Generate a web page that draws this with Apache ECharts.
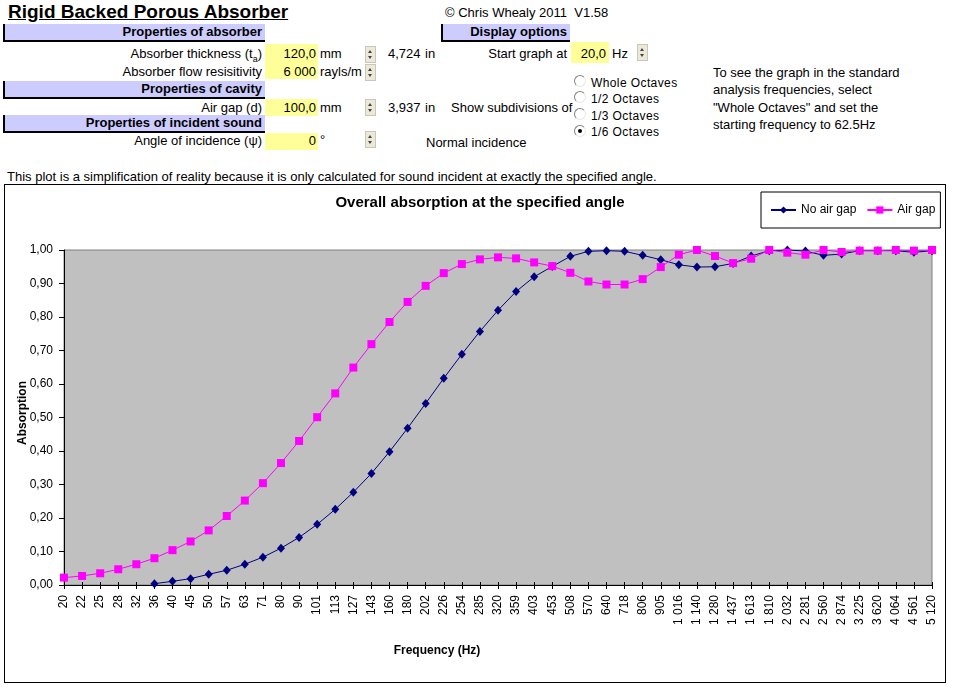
<!DOCTYPE html>
<html>
<head>
<meta charset="utf-8">
<script src="https://cdn.jsdelivr.net/npm/echarts@6/dist/echarts.min.js"></script>
<style>
  body { margin: 0; background: #fff; font-family: Arial, "Liberation Sans", sans-serif; font-size: 13px; color: #000; }
  .a { position: absolute; white-space: nowrap; line-height: 17px; height: 17px; }
  .r { text-align: right; }
  .hdr { position: absolute; background: #ccccff; border-left: 2px solid #000; border-bottom: 2px solid #000;
         font-weight: bold; text-align: right; line-height: 16px; box-sizing: border-box; padding-right: 3px; }
  .cell { position: absolute; background: #ffff99; }
  .spin { position: absolute; width: 9px; height: 15px; background: #ece9d8; border: 1px solid #c9c7ba; }
  .spin:before, .spin:after { content: ''; position: absolute; left: 2px; border-left: 2.5px solid transparent; border-right: 2.5px solid transparent; }
  .spin:before { top: 3px; border-bottom: 3px solid #444; }
  .spin:after { top: 9px; border-top: 3px solid #444; }
  .radio { position: absolute; width: 10px; height: 10px; border-radius: 50%; border: 1px solid; border-color: #808080 #e8e8e8 #e8e8e8 #808080; background: #fff; }
  .radio.on:after { content: ''; position: absolute; left: 3px; top: 3px; width: 4px; height: 4px; border-radius: 50%; background: #000; }
  .opt { position: absolute; white-space: nowrap; font-size: 12px; letter-spacing: 0.4px; line-height: 15px; }
  #chart { position: absolute; left: 4px; top: 184px; width: 942px; height: 499px; border: 1px solid #000; box-sizing: border-box; }
</style>
</head>
<body>
<div class="a" style="left:8px;top:0px;height:24px;line-height:24px;font-size:19px;font-weight:bold;text-decoration:underline;">Rigid Backed Porous Absorber</div>
<div class="a" style="left:445px;top:4px;">© Chris Whealy 2011&nbsp; V1.58</div>

<div class="hdr" style="left:3px;top:24px;width:262px;height:18px;">Properties of absorber</div>
<div class="a r" style="left:60px;width:202px;top:45px;">Absorber thickness (t<sub style="font-size:9px;line-height:0">a</sub>)</div>
<div class="a r" style="left:60px;width:202px;top:63px;">Absorber flow resisitivity</div>
<div class="cell" style="left:265px;top:44px;width:53px;height:35px;"></div>
<div class="a r" style="left:265px;width:51px;top:45px;">120,0</div>
<div class="a r" style="left:265px;width:51px;top:63px;">6 000</div>
<div class="a" style="left:320px;top:45px;">mm</div>
<div class="a" style="left:320px;top:63px;">rayls/m</div>
<div class="spin" style="left:365px;top:46px;"></div>
<div class="spin" style="left:365px;top:64px;"></div>
<div class="a" style="left:388px;top:45px;">4,724</div>
<div class="a" style="left:425px;top:45px;">in</div>

<div class="hdr" style="left:3px;top:81px;width:262px;height:18px;">Properties of cavity</div>
<div class="a r" style="left:60px;width:202px;top:99px;">Air gap (d)</div>
<div class="cell" style="left:265px;top:99px;width:53px;height:17px;"></div>
<div class="a r" style="left:265px;width:51px;top:99px;">100,0</div>
<div class="a" style="left:320px;top:99px;">mm</div>
<div class="spin" style="left:365px;top:99px;"></div>
<div class="a" style="left:388px;top:99px;">3,937</div>
<div class="a" style="left:425px;top:99px;">in</div>

<div class="hdr" style="left:3px;top:115px;width:262px;height:18px;">Properties of incident sound</div>
<div class="a r" style="left:60px;width:202px;top:132px;">Angle of incidence (ψ)</div>
<div class="cell" style="left:265px;top:133px;width:53px;height:17px;"></div>
<div class="a r" style="left:265px;width:51px;top:132px;">0</div>
<div class="a" style="left:320px;top:131px;">°</div>
<div class="spin" style="left:365px;top:131px;"></div>
<div class="a" style="left:426px;top:134px;">Normal incidence</div>

<div class="hdr" style="left:441px;top:24px;width:129px;height:18px;">Display options</div>
<div class="a r" style="left:440px;width:127px;top:45px;">Start graph at</div>
<div class="cell" style="left:571px;top:42px;width:38px;height:21px;"></div>
<div class="a r" style="left:571px;width:35px;top:45px;">20,0</div>
<div class="a" style="left:612px;top:45px;">Hz</div>
<div class="spin" style="left:637px;top:44px;"></div>

<div class="a" style="left:451px;top:99px;">Show subdivisions of</div>
<div class="radio" style="left:574px;top:75px;"></div>
<div class="radio" style="left:574px;top:91px;"></div>
<div class="radio" style="left:574px;top:108px;"></div>
<div class="radio on" style="left:574px;top:125px;"></div>
<div class="opt" style="left:591px;top:76px;">Whole Octaves</div>
<div class="opt" style="left:591px;top:92px;">1/2 Octaves</div>
<div class="opt" style="left:591px;top:109px;">1/3 Octaves</div>
<div class="opt" style="left:591px;top:125px;">1/6 Octaves</div>

<div class="a" style="left:713px;top:64px;">To see the graph in the standard</div>
<div class="a" style="left:713px;top:81px;">analysis frequencies, select</div>
<div class="a" style="left:713px;top:99px;">"Whole Octaves" and set the</div>
<div class="a" style="left:713px;top:116px;">starting frequency to 62.5Hz</div>

<div class="a" style="left:7px;top:168px;">This plot is a simplification of reality because it is only calculated for sound incident at exactly the specified angle.</div>

<div id="chart"></div>

<script>
const fontFamily = 'Arial, "Liberation Sans", sans-serif'

// 1/6 octave frequencies (Hz), as printed on the axis
const freqLabels = ['20', '22', '25', '28', '32', '36', '40', '45', '50', '57', '63', '71', '80', '90',
  '101', '113', '127', '143', '160', '180', '202', '226', '254', '285', '320', '359', '403', '453',
  '508', '570', '640', '718', '806', '905', '1 016', '1 140', '1 280', '1 437', '1 613', '1 810',
  '2 032', '2 281', '2 560', '2 874', '3 225', '3 620', '4 064', '4 561', '5 120']

// absorption coefficient without air gap (no value below 36 Hz)
const noAirGap = [null, null, null, null, null,
  0.004, 0.011, 0.019, 0.032, 0.044, 0.062, 0.083, 0.11, 0.142, 0.181, 0.226, 0.277, 0.333, 0.398,
  0.468, 0.542, 0.617, 0.689, 0.757, 0.82, 0.876, 0.92, 0.951, 0.981, 0.996, 0.998, 0.996, 0.984,
  0.971, 0.956, 0.949, 0.95, 0.96, 0.982, 0.998, 1.0, 0.997, 0.984, 0.988, 0.998, 0.998, 0.998,
  0.993, 0.998]

// absorption coefficient with 100 mm air gap
const airGap = [0.022, 0.027, 0.035, 0.047, 0.062, 0.08, 0.104, 0.13, 0.163, 0.206, 0.252, 0.304,
  0.364, 0.43, 0.501, 0.572, 0.649, 0.719, 0.785, 0.845, 0.893, 0.931, 0.958, 0.972, 0.978, 0.975,
  0.963, 0.952, 0.932, 0.906, 0.897, 0.897, 0.913, 0.949, 0.986, 1.0, 0.982, 0.961, 0.974, 1.0,
  0.992, 0.986, 1.0, 0.994, 0.998, 0.998, 1.0, 0.998, 1.0]

const chart = echarts.init(document.getElementById('chart'))
const options = {
  animation: false,
  textStyle: { fontFamily },
  graphic: [
    { type: 'text', x: 475, y: 18, style: { text: 'Overall absorption at the specified angle', font: 'bold 15px ' + fontFamily, fill: '#000', align: 'center', verticalAlign: 'middle' } },
    { type: 'text', x: 432, y: 466, style: { text: 'Frequency (Hz)', font: 'bold 12px ' + fontFamily, fill: '#000', align: 'center', verticalAlign: 'middle' } },
    { type: 'text', x: 18, y: 228, rotation: Math.PI / 2, style: { text: 'Absorption', font: 'bold 12px ' + fontFamily, fill: '#000', align: 'center', verticalAlign: 'middle' } }
  ],
  legend: {
    left: 756,
    top: 7,
    width: 180,
    backgroundColor: '#fff',
    borderColor: '#000',
    borderWidth: 1,
    borderRadius: 0,
    padding: [12, 5, 12, 9],
    itemWidth: 25,
    itemHeight: 9,
    itemGap: 10,
    textStyle: { fontSize: 12, color: '#000', fontFamily },
    data: ['No air gap', 'Air gap']
  },
  grid: {
    left: 59,
    top: 65,
    width: 868,
    height: 335,
    show: true,
    backgroundColor: '#c0c0c0',
    borderColor: '#808080',
    borderWidth: 1
  },
  xAxis: [{
    type: 'category',
    data: freqLabels,
    boundaryGap: false,
    axisLine: { lineStyle: { color: '#000', width: 1 } },
    axisTick: { interval: 0, length: 4, lineStyle: { color: '#000' } },
    axisLabel: { interval: 0, rotate: 90, fontSize: 12, color: '#000', margin: 10, fontFamily }
  }, {
    type: 'category',
    data: freqLabels,
    boundaryGap: false,
    position: 'bottom',
    axisLine: { show: false },
    axisTick: { interval: 0, inside: true, length: 3, lineStyle: { color: '#000' } },
    axisLabel: { show: false }
  }],
  yAxis: {
    type: 'value',
    min: 0,
    max: 1,
    interval: 0.1,
    axisLine: { show: true, lineStyle: { color: '#000', width: 1 } },
    axisTick: { show: true, length: 5, lineStyle: { color: '#000' } },
    splitLine: { show: false },
    axisLabel: { fontSize: 12, color: '#000', margin: 11, fontFamily, formatter: v => v.toFixed(2).replace('.', ',') }
  },
  series: [{
    name: 'No air gap',
    type: 'line',
    data: noAirGap,
    symbol: 'diamond',
    symbolSize: [8, 9],
    showAllSymbol: true,
    color: '#000080',
    itemStyle: { color: '#000080' },
    lineStyle: { color: '#000080', width: 1 }
  }, {
    name: 'Air gap',
    type: 'line',
    data: airGap,
    symbol: 'rect',
    symbolSize: 8,
    showAllSymbol: true,
    color: '#ff00ff',
    itemStyle: { color: '#ff00ff' },
    lineStyle: { color: '#ff00ff', width: 1 }
  }]
}
chart.setOption(options)
</script>
</body>
</html>
